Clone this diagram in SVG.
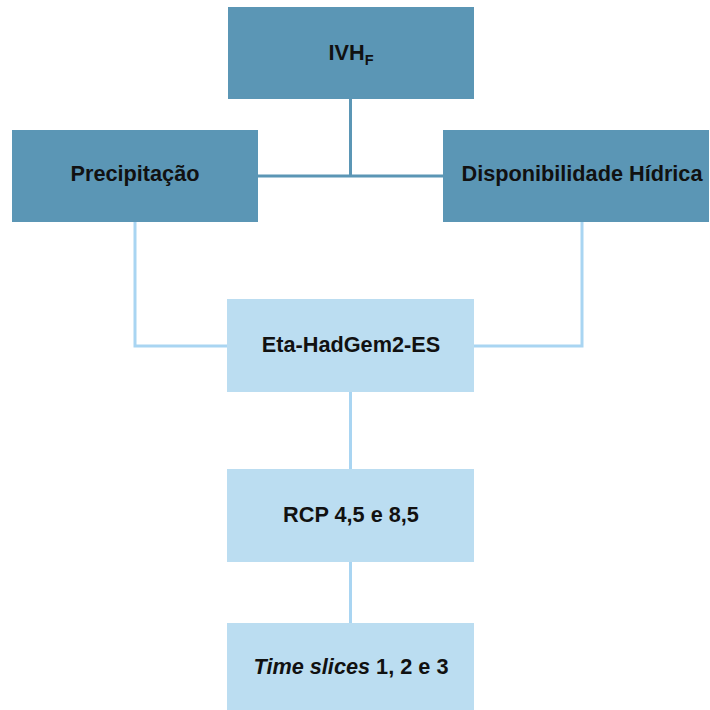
<svg xmlns="http://www.w3.org/2000/svg" width="710" height="710" viewBox="0 0 710 710">
<style>
.dark{fill:#5b96b5}
.light{fill:#bbddf1}
.t{font-family:"Liberation Sans",Arial,sans-serif;font-weight:bold;font-size:21.7px;fill:#111;text-anchor:middle}
.cd{stroke:#5b96b5;stroke-width:3;fill:none}
.cl{stroke:#a9d5f2;stroke-width:3;fill:none}
</style>
<rect width="710" height="710" fill="#fff"/>
<g id="connectors">
<path class="cd" d="M350.5 99 V176 M258 176 H443"/>
<path class="cl" d="M135 222 V346 H227 M582 222 V346 H474"/>
<path class="cl" d="M350.5 392 V469 M350.5 562 V623"/>
</g>
<g id="ivhf">
<rect class="dark" x="228" y="7" width="246" height="92"/>
<text class="t" x="351" y="60">IVH<tspan font-size="14.5" dy="5">F</tspan></text>
</g>
<g id="precipitacao">
<rect class="dark" x="12" y="130" width="246" height="92"/>
<text class="t" x="135" y="181">Precipitação</text>
</g>
<g id="disponibilidade">
<rect class="dark" x="443" y="130" width="266" height="92"/>
<text class="t" x="582" y="181">Disponibilidade Hídrica</text>
</g>
<g id="eta">
<rect class="light" x="227" y="299" width="247" height="93"/>
<text class="t" x="351" y="352">Eta-HadGem2-ES</text>
</g>
<g id="rcp">
<rect class="light" x="227" y="469" width="247" height="93"/>
<text class="t" x="351" y="522">RCP 4,5 e 8,5</text>
</g>
<g id="timeslices">
<rect class="light" x="227" y="623" width="247" height="87"/>
<text class="t" x="351" y="674"><tspan font-style="italic">Time slices</tspan> 1, 2 e 3</text>
</g>
</svg>
